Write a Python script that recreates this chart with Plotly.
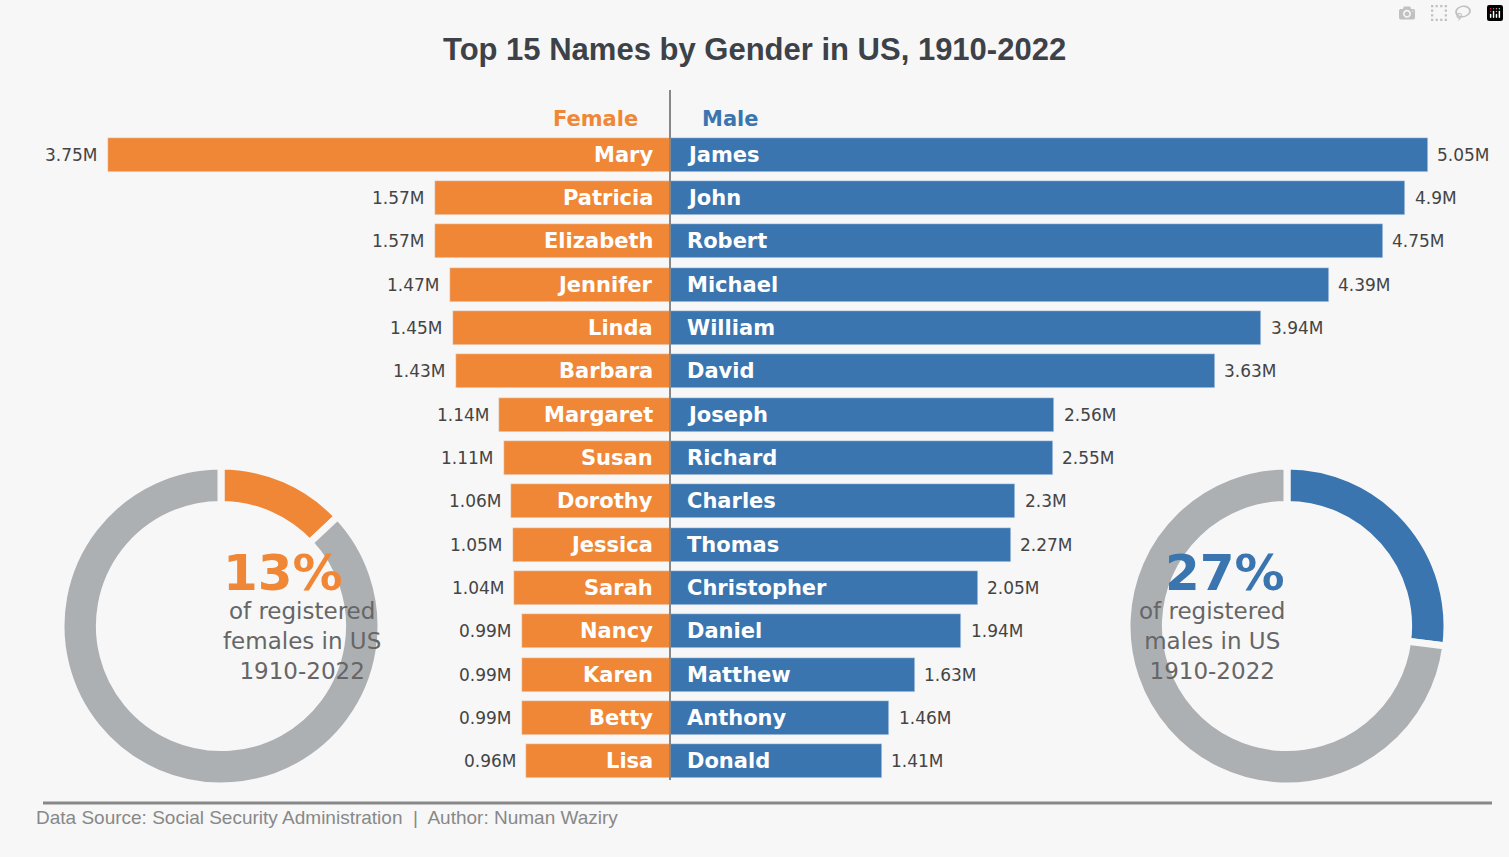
import plotly.graph_objects as go

female_names = ["Mary","Patricia","Elizabeth","Jennifer","Linda","Barbara","Margaret","Susan","Dorothy","Jessica","Sarah","Nancy","Karen","Betty","Lisa"]
female_vals = [3.75,1.57,1.57,1.47,1.45,1.43,1.14,1.11,1.06,1.05,1.04,0.99,0.99,0.99,0.96]
male_names = ["James","John","Robert","Michael","William","David","Joseph","Richard","Charles","Thomas","Christopher","Daniel","Matthew","Anthony","Donald"]
male_vals = [5.05,4.9,4.75,4.39,3.94,3.63,2.56,2.55,2.3,2.27,2.05,1.94,1.63,1.46,1.41]
female_share = 13
male_share = 27

W, H = 1509, 857
ORANGE = "#f08736"
BLUE = "#3a75b0"
GRAY = "#adb0b3"
BG = "#f7f7f7"
ppm = 150.0
xr = [-670/ppm, (W-670)/ppm]
ypos = list(range(len(female_names)))

fig = go.Figure()
fig.add_bar(y=ypos, x=[-v for v in female_vals], orientation="h", marker_color=ORANGE, width=0.79, hoverinfo="skip")
fig.add_bar(y=ypos, x=male_vals, orientation="h", marker_color=BLUE, width=0.79, hoverinfo="skip")

ann = []
lab = dict(family="DejaVu Sans", size=21, color="white")
val = dict(family="DejaVu Sans", size=17, color="#444")
for i in ypos:
    ann.append(dict(x=-0.1, y=i, text=f"<b>{female_names[i]}</b>", xanchor="right", showarrow=False, font=lab))
    ann.append(dict(x=0.1, y=i, text=f"<b>{male_names[i]}</b>", xanchor="left", showarrow=False, font=lab))
    ann.append(dict(x=-female_vals[i]-0.05, y=i, text=f"{female_vals[i]:g}M", xanchor="right", showarrow=False, font=val))
    ann.append(dict(x=male_vals[i]+0.05, y=i, text=f"{male_vals[i]:g}M", xanchor="left", showarrow=False, font=val))

def donut(cx, cy, share, color, label):
    r = 160
    fig.add_pie(values=[share, 100-share], marker=dict(colors=[color, GRAY], line=dict(color=BG, width=7)),
                hole=0.76, sort=False, direction="clockwise", rotation=0, textinfo="none", hoverinfo="skip",
                showlegend=False,
                domain=dict(x=[(cx-r)/W, (cx+r)/W], y=[(H-cy-r)/H, (H-cy+r)/H]))
    ann.append(dict(xref="paper", yref="paper", x=cx/W, y=(H-cy+53)/H, text=f"<b>{share}%</b>", showarrow=False,
                    font=dict(family="DejaVu Sans", size=50, color=color), yanchor="middle"))
    ann.append(dict(xref="paper", yref="paper", x=cx/W, y=(H-cy-15)/H, text=f"of registered<br>{label} in US<br>1910-2022",
                    showarrow=False, font=dict(family="DejaVu Sans", size=23, color="#666"), yanchor="middle"))

donut(221, 626, female_share, ORANGE, "females")
donut(1287, 626, male_share, BLUE, "males")

ann.append(dict(xref="paper", yref="paper", x=0.5, y=(H-30)/H, text="<b>Top 15 Names by Gender in US, 1910-2022</b>",
                showarrow=False, font=dict(family="Liberation Sans", size=31, color="#3d4148")))
ann.append(dict(xref="paper", yref="paper", x=640/W, y=(H-105)/H, xanchor="right", text="<b>Female</b>",
                showarrow=False, font=dict(family="DejaVu Sans", size=21, color=ORANGE)))
ann.append(dict(xref="paper", yref="paper", x=700/W, y=(H-105)/H, xanchor="left", text="<b>Male</b>",
                showarrow=False, font=dict(family="DejaVu Sans", size=21, color=BLUE)))
ann.append(dict(xref="paper", yref="paper", x=34/W, y=(H-830)/H, xanchor="left", text="Data Source: Social Security Administration  |  Author: Numan Waziry",
                showarrow=False, font=dict(family="Liberation Sans", size=19, color="#888")))

shapes = [
    dict(type="line", xref="paper", yref="paper", x0=670/W, x1=670/W, y0=(H-780)/H, y1=(H-90)/H, line=dict(color="#888", width=2)),
    dict(type="line", xref="paper", yref="paper", x0=43/W, x1=1492/W, y0=(H-803)/H, y1=(H-803)/H, line=dict(color="#888", width=3)),
]

fig.update_layout(width=W, height=H, paper_bgcolor=BG, plot_bgcolor=BG, barmode="overlay", showlegend=False,
                  margin=dict(l=0, r=0, t=0, b=0), annotations=ann, shapes=shapes, bargap=0)
fig.update_xaxes(range=xr, domain=[0, 1], visible=False, fixedrange=True)
fig.update_yaxes(range=[len(ypos)-0.5, -0.5], domain=[74/H, 1-133/H], visible=False, fixedrange=True)
fig.write_html("out.html", post_script="document.body.style.margin='0';document.body.style.overflow='hidden';")
